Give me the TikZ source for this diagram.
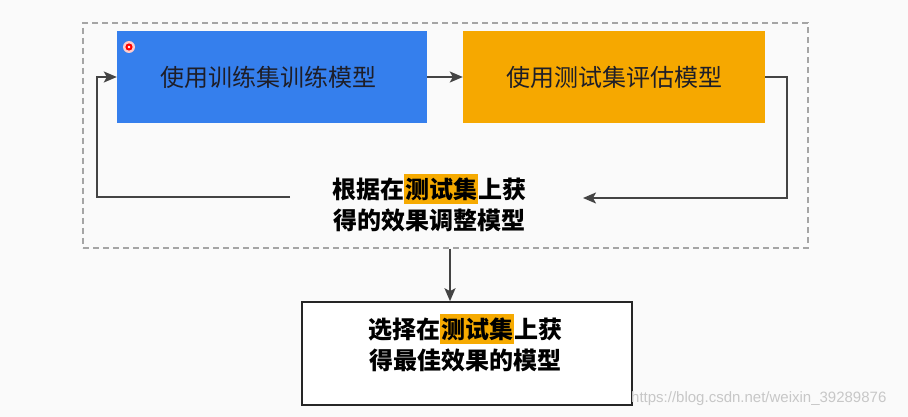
\documentclass[tikz,border=0pt]{standalone}
\usepackage{fontspec}
\setmainfont{Liberation Sans}
\newfontfamily\cjk{Noto Sans CJK SC}
\usetikzlibrary{arrows.meta}
\definecolor{bluebox}{RGB}{53,127,237}
\definecolor{orangebox}{RGB}{246,168,0}
\definecolor{hlc}{RGB}{246,170,0}
\definecolor{linec}{RGB}{68,68,68}
\definecolor{dashc}{RGB}{165,165,165}
\definecolor{bgc}{RGB}{250,250,250}
\definecolor{txtc}{RGB}{30,30,40}
\newcommand\hilite[1]{{\setlength{\fboxsep}{0pt}\colorbox{hlc}{\rule[-6pt]{0pt}{30pt}\kern1pt#1\kern1pt}}}
\begin{document}
\begin{tikzpicture}[x=1pt,y=-1pt,
  fillbox/.style={rectangle, minimum height=92pt, inner sep=0pt, draw=none,
    font=\cjk\fontsize{24}{28}\selectfont, text=txtc},
  boldtxt/.style={align=center, inner sep=0pt, text=black,
    font=\cjk\bfseries\fontsize{24}{31}\selectfont},
  arr/.style={draw=linec, line width=1.9pt, -{Stealth[length=13pt,width=11pt,inset=3pt]}},
  frame/.style={draw=dashc, line width=1.2pt, dash pattern=on 6pt off 4pt, rectangle, inner sep=0pt},
  outbox/.style={draw=black!85, line width=1.6pt, fill=white, rectangle, inner sep=0pt}]
\fill[bgc] (0,0) rectangle (908,417);
\useasboundingbox (0,0) rectangle (908,417);

\node[frame, minimum width=725pt, minimum height=225pt] (frame) at (445.5,135.5) {};

\node[fillbox, fill=bluebox, minimum width=310pt] (train) at (272,77) {使用训练集训练模型\kern8pt};
\node[fillbox, fill=orangebox, minimum width=302pt] (eval) at (614,77) {使用测试集评估模型};

\node[boldtxt] (adj) at (429,203) {根据在\hilite{测试集}上获\\得的效果调整模型};
\coordinate (adjL) at (290,197);
\coordinate (adjR) at (583,198);
\coordinate (lcorner) at (97,77);

\draw[arr] (train.east) -- (eval.west);
\draw[arr] (eval.east) -- ++(22,0) |- (adjR);
\draw[arr] (adjL) -| (lcorner) -- (train.west);

\node[outbox, minimum width=330pt, minimum height=103pt] (select) at (467,353.5) {};
\node[boldtxt] (seltxt) at (465,343) {选择在\hilite{测试集}上获\\得最佳效果的模型};

\coordinate (dn) at (450,0);
\draw[arr] (frame.south -| dn) -- (select.north -| dn);

% cursor mark
\fill[red!20] (129,47) circle (6pt);
\fill[red] (129,47) circle (3.6pt);
\fill[white] (129,47) circle (1.3pt);

% watermark
\node[anchor=west, inner sep=0pt, text=black!22, font=\fontsize{15}{18}\selectfont] (wm) at (631,399) {https://blog.csdn.net/weixin\_39289876};
\end{tikzpicture}
\end{document}
